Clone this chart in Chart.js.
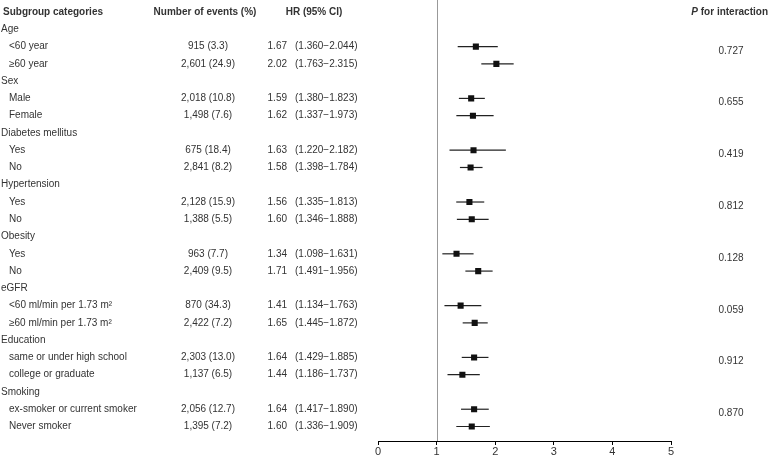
<!DOCTYPE html>
<html>
<head>
<meta charset="utf-8">
<script src="https://cdn.jsdelivr.net/npm/chart.js@4/dist/chart.umd.min.js"></script>
<style>
  html, body { margin: 0; padding: 0; background: #fff; }
  #wrap { width: 770px; height: 458px; }
</style>
</head>
<body>
<div id="wrap"><canvas id="myChart" width="770" height="458"></canvas></div>
<script>
/* forest plot of subgroup hazard ratios */

const groups = ['Age', 'Sex', 'Diabetes mellitus', 'Hypertension', 'Obesity', 'eGFR', 'Education', 'Smoking'];
const subgroups = [
  '<60 year', '\u226560 year',
  'Male', 'Female',
  'Yes', 'No',
  'Yes', 'No',
  'Yes', 'No',
  '<60 ml/min per 1.73 m\u00b2', '\u226560 ml/min per 1.73 m\u00b2',
  'same or under high school', 'college or graduate',
  'ex-smoker or current smoker', 'Never smoker'
];
const events = [
  '915 (3.3)', '2,601 (24.9)',
  '2,018 (10.8)', '1,498 (7.6)',
  '675 (18.4)', '2,841 (8.2)',
  '2,128 (15.9)', '1,388 (5.5)',
  '963 (7.7)', '2,409 (9.5)',
  '870 (34.3)', '2,422 (7.2)',
  '2,303 (13.0)', '1,137 (6.5)',
  '2,056 (12.7)', '1,395 (7.2)'
];
const hr = [1.67, 2.02, 1.59, 1.62, 1.63, 1.58, 1.56, 1.60, 1.34, 1.71, 1.41, 1.65, 1.64, 1.44, 1.64, 1.60];
const lower = [1.360, 1.763, 1.380, 1.337, 1.220, 1.398, 1.335, 1.346, 1.098, 1.491, 1.134, 1.445, 1.429, 1.186, 1.417, 1.336];
const upper = [2.044, 2.315, 1.823, 1.973, 2.182, 1.784, 1.813, 1.888, 1.631, 1.956, 1.763, 1.872, 1.885, 1.737, 1.890, 1.909];
const pInteraction = ['0.727', '0.655', '0.419', '0.812', '0.128', '0.059', '0.912', '0.870'];
const xTicks = [0, 1, 2, 3, 4, 5];

// row 0 is the header, each group takes 3 rows (title + 2 subgroups)
function groupRow(g) { return 1 + g * 3; }
function subRow(i) { return groupRow(Math.floor(i / 2)) + 1 + (i % 2); }

const points = hr.map(function (v, i) { return { x: v, y: subRow(i) }; });

const FONT = '"Liberation Sans", Arial, sans-serif';
const TEXT = '#333';

const forestText = {
  id: 'forestText',
  beforeDatasetsDraw: function (chart) {
    const ctx = chart.ctx;
    const xs = chart.scales.x;
    const ys = chart.scales.y;
    const area = chart.chartArea;
    ctx.save();
    // reference line at HR = 1
    ctx.strokeStyle = '#999';
    ctx.lineWidth = 1;
    const x1 = Math.round(xs.getPixelForValue(1)) + 0.5;
    ctx.beginPath();
    ctx.moveTo(x1, 0);
    ctx.lineTo(x1, area.bottom);
    ctx.stroke();
    // confidence intervals
    ctx.strokeStyle = '#222';
    ctx.lineWidth = 1.2;
    for (let i = 0; i < hr.length; i++) {
      const y = ys.getPixelForValue(subRow(i));
      ctx.beginPath();
      ctx.moveTo(xs.getPixelForValue(lower[i]), y);
      ctx.lineTo(xs.getPixelForValue(upper[i]), y);
      ctx.stroke();
    }
    ctx.restore();
  },
  afterDraw: function (chart) {
    const ctx = chart.ctx;
    const ys = chart.scales.y;
    ctx.save();
    ctx.fillStyle = TEXT;
    ctx.textBaseline = 'middle';
    // header
    const h = ys.getPixelForValue(0);
    ctx.font = 'bold 10px ' + FONT;
    ctx.textAlign = 'left';
    ctx.fillText('Subgroup categories', 3, h);
    ctx.textAlign = 'center';
    ctx.fillText('Number of events (%)', 205, h);
    ctx.fillText('HR (95% CI)', 314, h);
    ctx.textAlign = 'right';
    const rest = ' for interaction';
    const restW = ctx.measureText(rest).width;
    ctx.fillText(rest, 768, h);
    ctx.font = 'italic bold 10px ' + FONT;
    ctx.fillText('P', 768 - restW, h);

    ctx.font = '10px ' + FONT;
    for (let g = 0; g < groups.length; g++) {
      ctx.textAlign = 'left';
      ctx.fillText(groups[g], 1, ys.getPixelForValue(groupRow(g)));
      ctx.textAlign = 'center';
      ctx.fillText(pInteraction[g], 731, ys.getPixelForValue(groupRow(g) + 1.25));
    }
    for (let i = 0; i < subgroups.length; i++) {
      const y = ys.getPixelForValue(subRow(i));
      ctx.textAlign = 'left';
      ctx.fillText(subgroups[i], 9, y);
      ctx.textAlign = 'center';
      ctx.fillText(events[i], 208, y);
      ctx.textAlign = 'right';
      ctx.fillText(hr[i].toFixed(2), 287, y);
      ctx.textAlign = 'left';
      ctx.fillText('(' + lower[i].toFixed(3) + '\u2212' + upper[i].toFixed(3) + ')', 295, y);
    }
    ctx.restore();
  }
};

const config = {
  type: 'scatter',
  data: {
    datasets: [{
      data: points,
      pointStyle: 'rect',
      radius: 4.3,
      hoverRadius: 4.3,
      backgroundColor: '#111',
      borderColor: '#111',
      borderWidth: 0
    }]
  },
  options: {
    responsive: false,
    animation: false,
    layout: { padding: { left: 378, right: 99, top: 0, bottom: 0 } },
    plugins: { legend: { display: false }, tooltip: { enabled: false } },
    scales: {
      x: {
        type: 'linear',
        min: 0,
        max: 5,
        afterBuildTicks: function (axis) { axis.ticks = xTicks.map(function (v) { return { value: v }; }); },
        grid: { drawOnChartArea: false, drawTicks: true, tickLength: 4, color: '#000' },
        border: { display: true, color: '#000', width: 1 },
        ticks: { color: TEXT, padding: 1, font: { family: FONT, size: 11, lineHeight: 1 }, maxRotation: 0 }
      },
      y: {
        type: 'linear',
        display: false,
        reverse: true,
        min: -0.45,
        max: 24.84
      }
    }
  },
  plugins: [forestText]
};

const myChart = new Chart(document.getElementById('myChart'), config);
</script>
</body>
</html>
